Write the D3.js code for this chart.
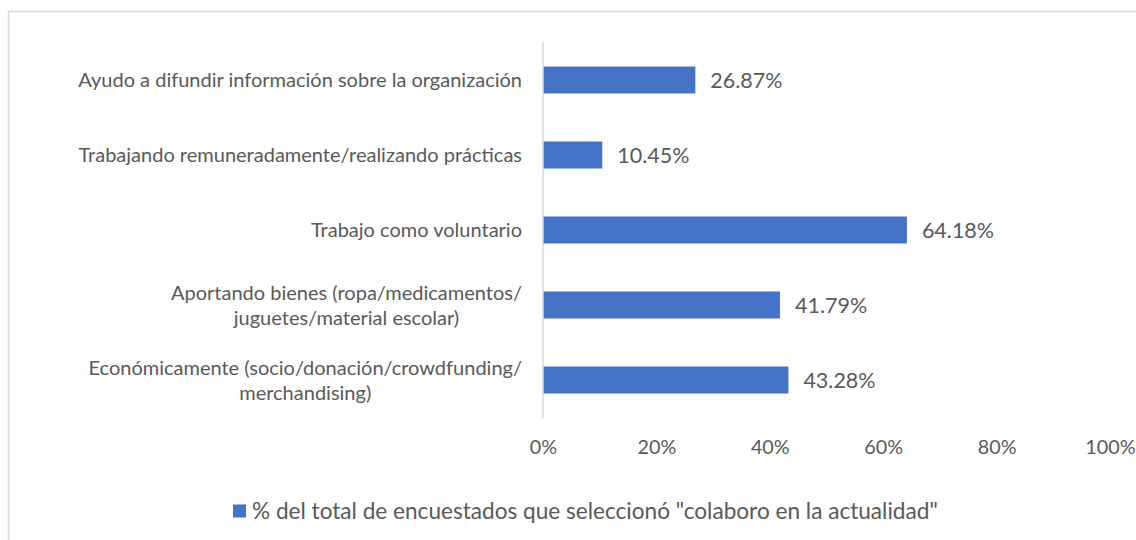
<!DOCTYPE html>
<html>
<head>
<meta charset="utf-8">
<script src="https://cdn.jsdelivr.net/npm/d3@7"></script>
<style>
  html, body { margin: 0; padding: 0; background: #fff; }
  text { font-family: "Lato", "Noto Sans", sans-serif; fill: #595959; }
</style>
</head>
<body>
<svg id="chart"></svg>
<script>
"use strict";

// categories, top to bottom (each entry is a list of lines)
var categories = [
  ["Ayudo a difundir información sobre la organización"],
  ["Trabajando remuneradamente/realizando prácticas"],
  ["Trabajo como voluntario"],
  ["Aportando bienes (ropa/medicamentos/", "juguetes/material escolar)"],
  ["Económicamente (socio/donación/crowdfunding/", "merchandising)"]
];
var values = [26.87, 10.45, 64.18, 41.79, 43.28];
var ticks = [0, 20, 40, 60, 80, 100];
var seriesName = '% del total de encuestados que seleccionó "colaboro en la actualidad"';

var W = 1136, H = 540;
var svg = d3.select("#chart").attr("width", W).attr("height", H);

// outer chart frame (only top and left edges are in view)
svg.append("path")
  .attr("d", "M8.5," + H + "V11.5H" + W)
  .attr("fill", "none")
  .attr("stroke", "#d9d9d9")
  .attr("stroke-width", 1.5);

var x = d3.scaleLinear().domain([0, 100]).range([543, 1110]);
var y = d3.scaleBand()
  .domain(d3.range(categories.length))
  .range([42.5, 417.5])
  .paddingInner(0.64)
  .paddingOuter(0.32);

// bars
svg.selectAll("rect.bar")
  .data(values)
  .enter().append("rect")
  .attr("class", "bar")
  .attr("x", x(0))
  .attr("y", function (d, i) { return y(i); })
  .attr("width", function (d) { return x(d) - x(0); })
  .attr("height", y.bandwidth())
  .attr("fill", "#4472c4");

// vertical axis line
svg.append("line")
  .attr("x1", x(0)).attr("x2", x(0))
  .attr("y1", 42).attr("y2", 418)
  .attr("stroke", "#d9d9d9")
  .attr("stroke-width", 1.5);

// value labels
svg.selectAll("text.val")
  .data(values)
  .enter().append("text")
  .attr("class", "val")
  .attr("x", function (d) { return x(d) + 15; })
  .attr("y", function (d, i) { return y(i) + y.bandwidth() / 2; })
  .attr("dy", "0.35em")
  .style("font-size", "21.5px")
  .text(function (d) { return d.toFixed(2) + "%"; });

// category labels: lines centred on each other, block right-aligned
var lineH = 25;
categories.forEach(function (lines, i) {
  var g = svg.append("g");
  var cy = y(i) + y.bandwidth() / 2;
  var texts = lines.map(function (line, j) {
    return g.append("text")
      .attr("y", cy + (j - (lines.length - 1) / 2) * lineH)
      .attr("dy", "0.35em")
      .attr("text-anchor", "middle")
      .style("font-size", "20px")
      .text(line);
  });
  var widest = d3.max(texts, function (t) { return t.node().getComputedTextLength(); });
  var cx = 522 - widest / 2;
  texts.forEach(function (t) { t.attr("x", cx); });
});

// x axis tick labels
var xAxis = d3.axisBottom(x)
  .tickValues(ticks)
  .tickSize(0)
  .tickPadding(0)
  .tickFormat(function (d) { return d + "%"; });

var axisG = svg.append("g")
  .attr("transform", "translate(0,440)")
  .call(xAxis);
axisG.select(".domain").remove();
axisG.selectAll("text")
  .attr("fill", null)
  .style("font-size", "19.8px")
  .style("font-family", null);

// legend
var legend = svg.append("g").attr("transform", "translate(233,511)");
legend.append("rect")
  .attr("x", 0).attr("y", -6.5)
  .attr("width", 13).attr("height", 13)
  .attr("fill", "#4472c4");
legend.append("text")
  .attr("x", 19)
  .attr("dy", "0.35em")
  .style("font-size", "22.6px")
  .text(seriesName);
</script>
</body>
</html>
